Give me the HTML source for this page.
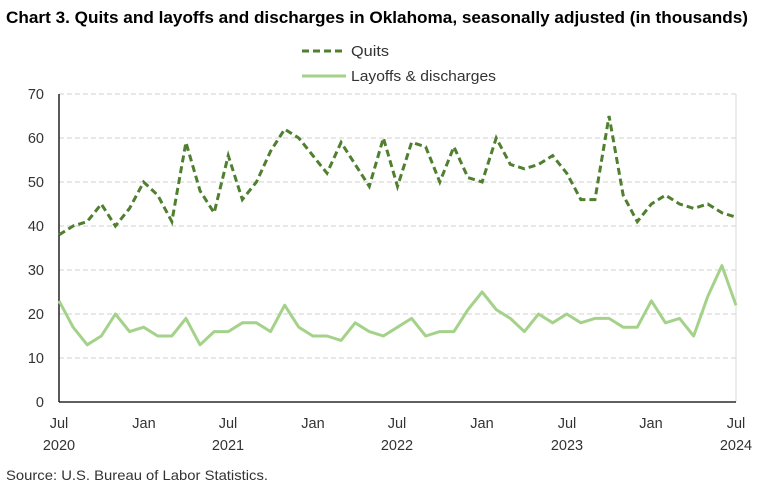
<!DOCTYPE html>
<html><head><meta charset="utf-8"><style>
body{margin:0;background:#fff;}
svg{display:block;font-family:"Liberation Sans",sans-serif;}
</style></head><body>
<svg width="780" height="488" viewBox="0 0 780 488">
<text x="6" y="23" font-size="16.5" font-weight="bold" fill="#000" textLength="742" lengthAdjust="spacingAndGlyphs">Chart 3. Quits and layoffs and discharges in Oklahoma, seasonally adjusted (in thousands)</text>
<line x1="302" y1="51" x2="346" y2="51" stroke="#4f7f2f" stroke-width="3" stroke-dasharray="7,4"/>
<text x="351" y="56" font-size="14.5" fill="#333" textLength="38" lengthAdjust="spacingAndGlyphs">Quits</text>
<line x1="302" y1="76" x2="346" y2="76" stroke="#a5d28a" stroke-width="3"/>
<text x="351" y="81" font-size="14.5" fill="#333" textLength="145" lengthAdjust="spacingAndGlyphs">Layoffs &amp; discharges</text>
<g stroke="#d0d0d0" stroke-width="1" stroke-dasharray="5,3">
<line x1="59" x2="736" y1="358" y2="358"/><line x1="59" x2="736" y1="314" y2="314"/>
<line x1="59" x2="736" y1="270" y2="270"/><line x1="59" x2="736" y1="226" y2="226"/>
<line x1="59" x2="736" y1="182" y2="182"/><line x1="59" x2="736" y1="138" y2="138"/>
<line x1="59" x2="736" y1="94" y2="94"/>
</g>
<line x1="736" y1="94" x2="736" y2="402" stroke="#d9d9d9"/>
<line x1="59" y1="94" x2="59" y2="402" stroke="#000" stroke-width="1.3"/>
<line x1="59" y1="402" x2="736" y2="402" stroke="#000" stroke-width="1.3"/>
<g font-size="14.5" fill="#333" text-anchor="end">
<text x="44" y="407">0</text><text x="44" y="363">10</text><text x="44" y="319">20</text>
<text x="44" y="275">30</text><text x="44" y="231">40</text><text x="44" y="187">50</text>
<text x="44" y="143">60</text><text x="44" y="99">70</text>
</g>
<g font-size="14.5" fill="#333" text-anchor="middle">
<text x="59" y="428">Jul</text><text x="59" y="450">2020</text>
<text x="144" y="428">Jan</text>
<text x="228" y="428">Jul</text><text x="228" y="450">2021</text>
<text x="313" y="428">Jan</text>
<text x="397" y="428">Jul</text><text x="397" y="450">2022</text>
<text x="482" y="428">Jan</text>
<text x="567" y="428">Jul</text><text x="567" y="450">2023</text>
<text x="651" y="428">Jan</text>
<text x="736" y="428">Jul</text><text x="736" y="450">2024</text>
</g>
<g transform="translate(59,402) scale(14.104,-4.4)" fill="none">
<polyline vector-effect="non-scaling-stroke" stroke="#a5d28a" stroke-width="3" stroke-linejoin="round"
points="0,23 1,17 2,13 3,15 4,20 5,16 6,17 7,15 8,15 9,19 10,13 11,16 12,16 13,18 14,18 15,16 16,22 17,17 18,15 19,15 20,14 21,18 22,16 23,15 24,17 25,19 26,15 27,16 28,16 29,21 30,25 31,21 32,19 33,16 34,20 35,18 36,20 37,18 38,19 39,19 40,17 41,17 42,23 43,18 44,19 45,15 46,24 47,31 48,22"/>
<polyline vector-effect="non-scaling-stroke" stroke="#4f7f2f" stroke-width="3" stroke-dasharray="7,4"
points="0,38 1,40 2,41 3,45 4,40 5,44 6,50 7,47 8,41 9,59 10,48 11,43 12,56 13,46 14,50 15,57 16,62 17,60 18,56 19,52 20,59 21,54 22,49 23,60 24,49 25,59 26,58 27,50 28,58 29,51 30,50 31,60 32,54 33,53 34,54 35,56 36,52 37,46 38,46 39,65 40,47 41,41 42,45 43,47 44,45 45,44 46,45 47,43 48,42"/>
</g>
<text x="6" y="480" font-size="14" fill="#333" textLength="262" lengthAdjust="spacingAndGlyphs">Source: U.S. Bureau of Labor Statistics.</text>
</svg>
</body></html>
